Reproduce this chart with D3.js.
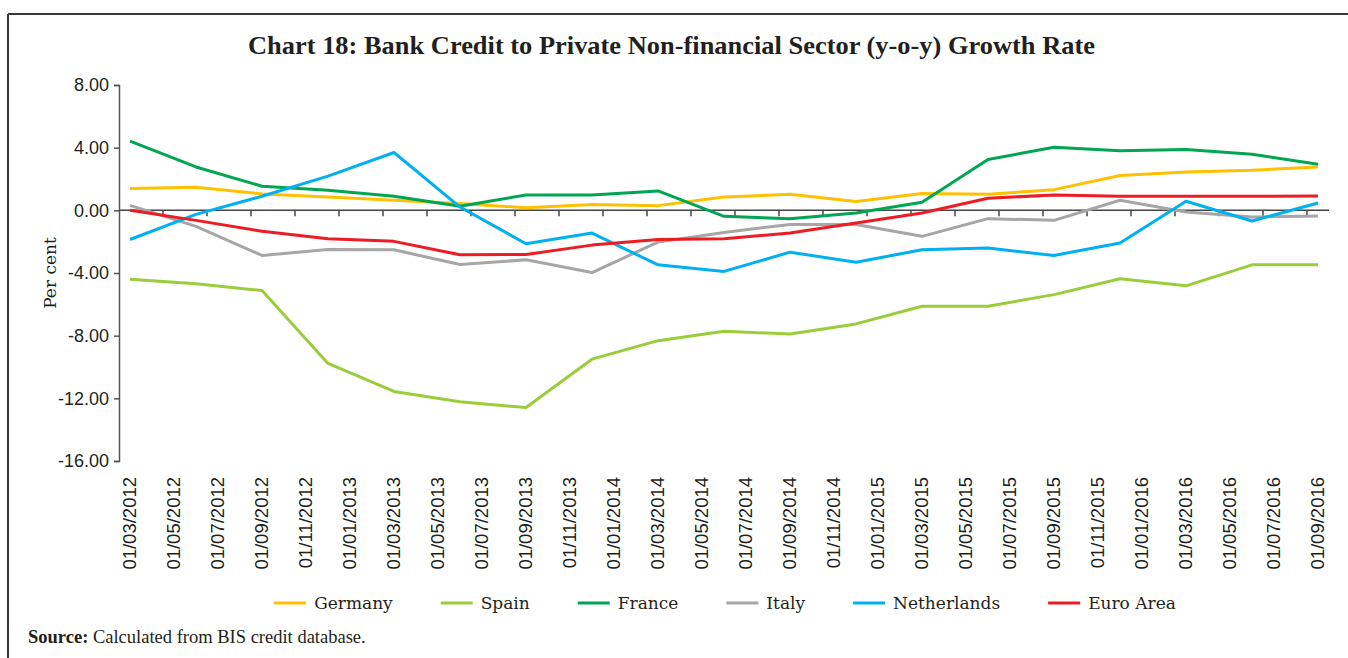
<!DOCTYPE html>
<html>
<head>
<meta charset="utf-8">
<style>
body { margin: 0; background: #fff; }
.axis text { font-family: "Liberation Sans", Arial, sans-serif; fill: #231f20; }
</style>
</head>
<body>
<svg width="1348" height="658"></svg>
<script src="https://d3js.org/d3.v7.min.js"></script>
<script>
// quarterly observations
var dates = ["01/03/2012","01/06/2012","01/09/2012","01/12/2012",
             "01/03/2013","01/06/2013","01/09/2013","01/12/2013",
             "01/03/2014","01/06/2014","01/09/2014","01/12/2014",
             "01/03/2015","01/06/2015","01/09/2015","01/12/2015",
             "01/03/2016","01/06/2016","01/09/2016"];

var germany     = [1.40, 1.47, 1.05, 0.85, 0.64, 0.43, 0.17, 0.38, 0.30, 0.85, 1.02, 0.56, 1.07, 1.02, 1.32, 2.22, 2.45, 2.56, 2.77];
var spain       = [-4.40, -4.69, -5.12, -9.77, -11.56, -12.22, -12.59, -9.50, -8.32, -7.72, -7.89, -7.25, -6.12, -6.12, -5.38, -4.37, -4.82, -3.48, -3.48];
var france      = [4.42, 2.77, 1.54, 1.28, 0.90, 0.26, 0.98, 0.98, 1.24, -0.38, -0.53, -0.17, 0.51, 3.24, 4.03, 3.80, 3.88, 3.58, 2.94];
var italy       = [0.32, -1.02, -2.88, -2.50, -2.52, -3.46, -3.16, -3.97, -2.03, -1.41, -0.90, -0.90, -1.66, -0.53, -0.64, 0.64, -0.10, -0.43, -0.36];
var netherlands = [-1.86, -0.26, 0.90, 2.18, 3.69, 0.21, -2.13, -1.45, -3.48, -3.90, -2.67, -3.31, -2.52, -2.41, -2.88, -2.09, 0.58, -0.68, 0.47];
var euroArea    = [0.00, -0.64, -1.34, -1.81, -1.98, -2.84, -2.82, -2.22, -1.86, -1.81, -1.45, -0.81, -0.17, 0.77, 0.98, 0.90, 0.90, 0.90, 0.92];

var seriesNames = ["Germany", "Spain", "France", "Italy", "Netherlands", "Euro Area"];
var seriesColors = ["#ffc000", "#9acd3a", "#00a651", "#a6a6a6", "#00b0f0", "#ed1c24"];
var seriesValues = [germany, spain, france, italy, netherlands, euroArea];

var xTickLabels = ["01/03/2012","01/05/2012","01/07/2012","01/09/2012","01/11/2012",
  "01/01/2013","01/03/2013","01/05/2013","01/07/2013","01/09/2013","01/11/2013",
  "01/01/2014","01/03/2014","01/05/2014","01/07/2014","01/09/2014","01/11/2014",
  "01/01/2015","01/03/2015","01/05/2015","01/07/2015","01/09/2015","01/11/2015",
  "01/01/2016","01/03/2016","01/05/2016","01/07/2016","01/09/2016"];
var yTicks = [8, 4, 0, -4, -8, -12, -16];

var svg = d3.select("svg");
var parse = d3.timeParse("%d/%m/%Y"), fmt = d3.timeFormat("%d/%m/%Y");

// frame
svg.append("line").attr("x1", 8).attr("x2", 1348).attr("y1", 14).attr("y2", 14)
  .attr("stroke", "#3a3a3a").attr("stroke-width", 2);
svg.append("line").attr("x1", 8).attr("x2", 8).attr("y1", 14).attr("y2", 658)
  .attr("stroke", "#3a3a3a").attr("stroke-width", 2);

svg.append("text")
  .attr("x", 248).attr("y", 54)
  .attr("textLength", 847)
  .attr("lengthAdjust", "spacingAndGlyphs")
  .attr("font-family", "Liberation Serif, serif")
  .attr("font-weight", "bold")
  .attr("font-size", 25)
  .attr("fill", "#231f20")
  .text("Chart 18: Bank Credit to Private Non-financial Sector (y-o-y) Growth Rate");

// one band per month, Mar 2012 .. Sep 2016
var months = d3.timeMonth.range(parse("01/03/2012"), parse("01/10/2016")).map(fmt);
var x = d3.scaleBand().domain(months).range([119, 1329]).padding(0);
var y = d3.scaleLinear().domain([-16, 8]).range([461, 85]);

// y axis
var yAxis = svg.append("g").attr("class", "axis")
  .attr("transform", "translate(119,0)")
  .call(d3.axisLeft(y).tickValues(yTicks).tickSize(5).tickPadding(5)
    .tickFormat(function(d) { return d.toFixed(2); }));
yAxis.select(".domain").attr("stroke", "#555").attr("stroke-width", 1.5);
yAxis.selectAll(".tick line").attr("stroke", "#555").attr("stroke-width", 1.5);
yAxis.selectAll("text").attr("font-size", 18);

svg.append("text")
  .attr("transform", "translate(56,273) rotate(-90)")
  .attr("text-anchor", "middle")
  .attr("font-family", "DejaVu Serif, serif")
  .attr("font-size", 17)
  .attr("fill", "#231f20")
  .text("Per cent");

// zero line with tick marks at month boundaries
var zero = y(0);
svg.append("line").attr("x1", 119).attr("x2", 1329).attr("y1", zero).attr("y2", zero)
  .attr("stroke", "#444").attr("stroke-width", 1.5);
svg.append("g").selectAll("line")
  .data(xTickLabels.slice(1))
  .join("line")
  .attr("x1", function(d) { return x(d); })
  .attr("x2", function(d) { return x(d); })
  .attr("y1", zero).attr("y2", zero + 6)
  .attr("stroke", "#444").attr("stroke-width", 1.5);

// x labels at bottom, rotated
svg.append("g").selectAll("text")
  .data(xTickLabels)
  .join("text")
  .attr("transform", function(d) { return "translate(" + (x(d) + x.bandwidth() / 2) + ",477) rotate(-90)"; })
  .attr("text-anchor", "end")
  .attr("dy", "0.35em")
  .attr("font-family", "Liberation Sans, Arial, sans-serif")
  .attr("font-size", 18.5)
  .attr("fill", "#231f20")
  .text(function(d) { return d; });

// lines
var line = d3.line()
  .x(function(d, i) { return x(dates[i]) + x.bandwidth() / 2; })
  .y(function(d) { return y(d); });

svg.append("g").selectAll("path")
  .data(seriesValues)
  .join("path")
  .attr("fill", "none")
  .attr("stroke", function(d, i) { return seriesColors[i]; })
  .attr("stroke-width", 3)
  .attr("stroke-linejoin", "round")
  .attr("d", line);

// legend
var legend = svg.append("g").attr("transform", "translate(0,603)");
var items = legend.selectAll("g").data(seriesNames).join("g");
items.append("line")
  .attr("x1", 0).attr("x2", 32).attr("y1", 0).attr("y2", 0)
  .attr("stroke", function(d, i) { return seriesColors[i]; })
  .attr("stroke-width", 3);
items.append("text")
  .attr("x", 40).attr("dy", "0.35em")
  .attr("font-family", "DejaVu Serif, serif")
  .attr("font-size", 17)
  .attr("fill", "#231f20")
  .text(function(d) { return d; });
var widths = [];
items.each(function() { widths.push(40 + d3.select(this).select("text").node().getComputedTextLength()); });
var gap = 48, total = d3.sum(widths) + gap * (widths.length - 1), cx = 275 + (1175 - 275) / 2;
var pos = cx - total / 2;
items.attr("transform", function(d, i) {
  var p = pos; pos += widths[i] + gap;
  return "translate(" + p + ",0)";
});

// source
var src = svg.append("text")
  .attr("x", 28).attr("y", 643)
  .attr("font-family", "Liberation Serif, serif")
  .attr("font-size", 18.5)
  .attr("fill", "#231f20");
src.append("tspan").attr("font-weight", "bold").text("Source:");
src.append("tspan").text(" Calculated from BIS credit database.");
</script>
</body>
</html>
